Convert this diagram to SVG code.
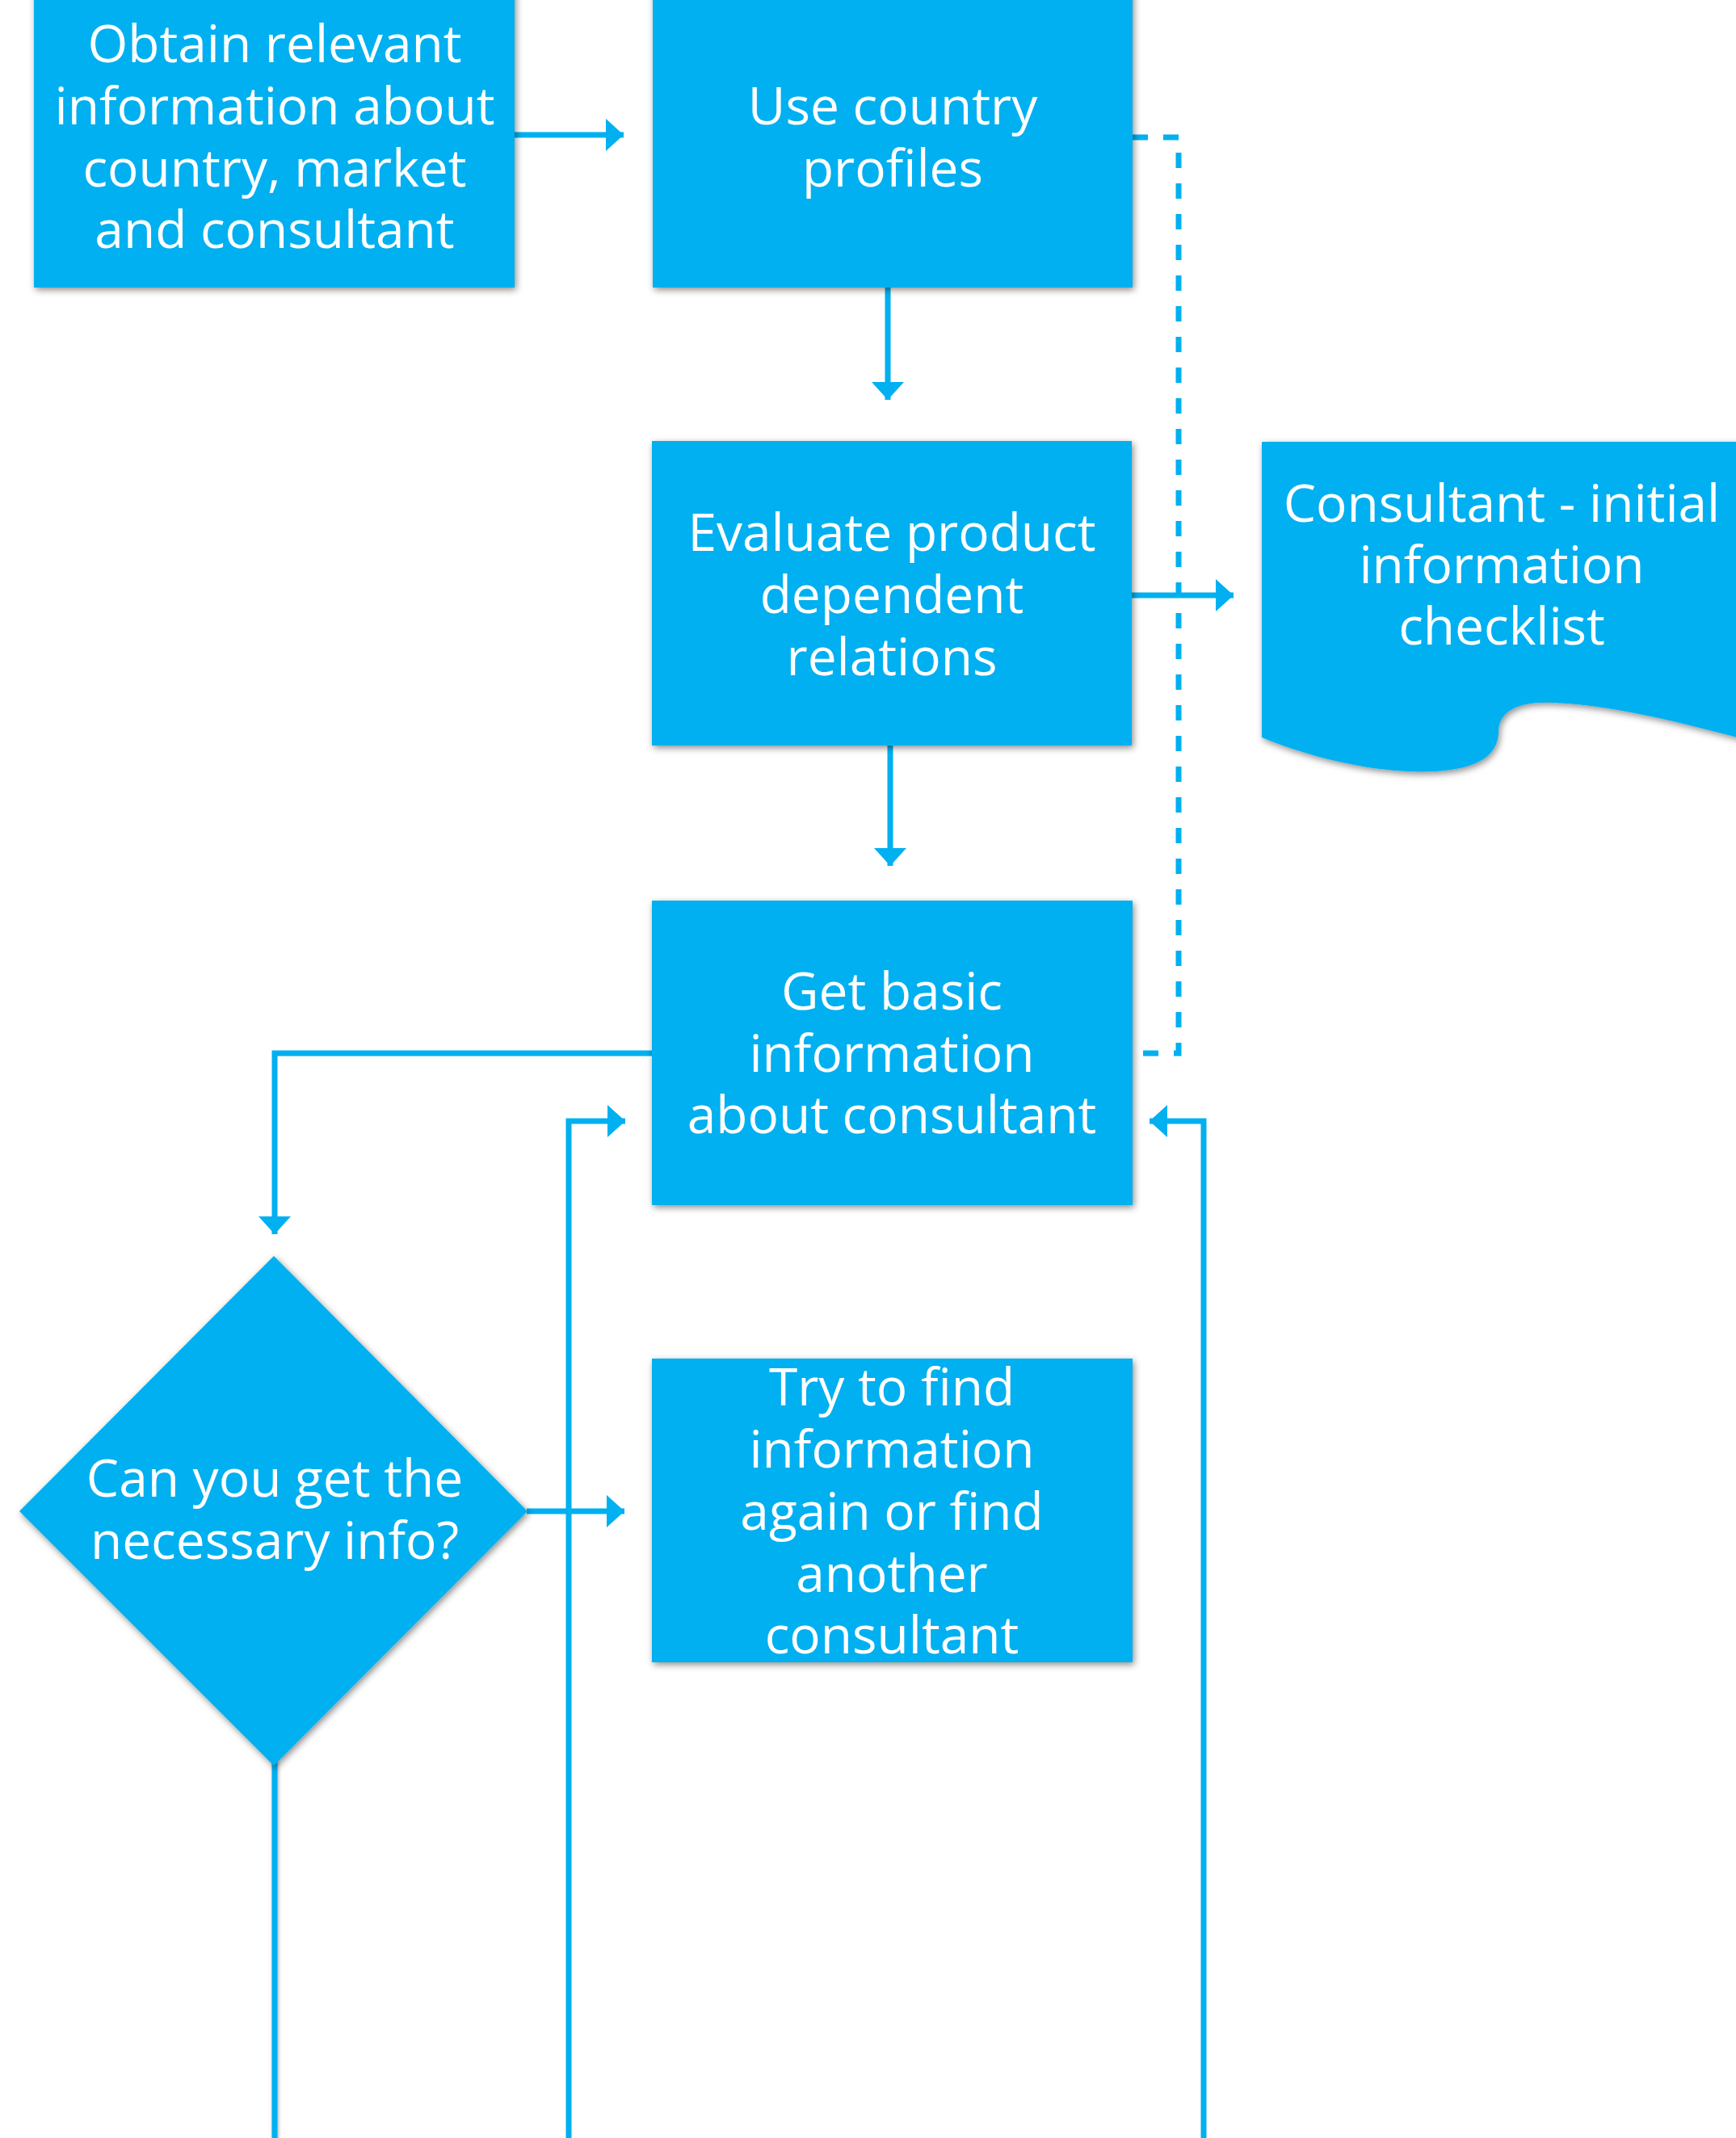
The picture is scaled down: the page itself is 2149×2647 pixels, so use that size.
<svg xmlns="http://www.w3.org/2000/svg" width="2149" height="2647" viewBox="0 0 2149 2647">
<defs>
<filter id="sh" x="-10%" y="-10%" width="120%" height="120%">
<feDropShadow dx="2" dy="3" stdDeviation="4" flood-color="#000" flood-opacity="0.45"/>
</filter>
<filter id="lsh" filterUnits="userSpaceOnUse" x="300" y="2150" width="80" height="520">
<feDropShadow dx="1" dy="2" stdDeviation="2" flood-color="#000" flood-opacity="0.35"/>
</filter>
<marker id="ah" markerUnits="userSpaceOnUse" markerWidth="24" markerHeight="42" viewBox="0 0 24 42" refX="22" refY="21" orient="auto">
<path d="M0,1 L22,21 L0,41 Z" fill="#00B0F0"/>
</marker>
</defs>
<style>
.n{fill:#00B0F0;filter:url(#sh)}
.t{font-family:"Open Sans","Noto Sans","DejaVu Sans",sans-serif;font-size:64px;fill:#fff;text-anchor:middle}
.c{fill:none;stroke:#00B0F0;stroke-width:7}
.d{fill:none;stroke:#00B0F0;stroke-width:7;stroke-dasharray:19 19}
</style>
<rect width="2149" height="2647" fill="#fff"/>
<g id="connectors">
<path class="d" d="M1402,170 H1459 V1304 H1402"/>
<path class="c" marker-end="url(#ah)" d="M637,167 H772"/>
<path class="c" marker-end="url(#ah)" d="M1099,356 V495"/>
<path class="c" marker-end="url(#ah)" d="M1102,923 V1072"/>
<path class="c" marker-end="url(#ah)" d="M1401,737 H1527"/>
<path class="c" marker-end="url(#ah)" d="M807,1304 H340 V1528"/>
<path class="c" marker-end="url(#ah)" d="M652,1871 H773"/>
<path class="c" marker-end="url(#ah)" d="M704,2647 V1388 H774"/>
<path class="c" marker-end="url(#ah)" d="M1490,2647 V1388 H1423"/>
<path class="c" filter="url(#lsh)" d="M340,2180 V2647"/>
</g>
<g id="n1">
<rect class="n" x="42" y="-20" width="595" height="376"/>
<text class="t"><tspan x="340" y="77">Obtain relevant</tspan><tspan x="340" y="154">information about</tspan><tspan x="340" y="231">country, market</tspan><tspan x="340" y="307">and consultant</tspan></text>
</g>
<g id="n2">
<rect class="n" x="808" y="-20" width="594" height="376"/>
<text class="t"><tspan x="1105" y="154">Use country</tspan><tspan x="1105" y="231">profiles</tspan></text>
</g>
<g id="n3">
<rect class="n" x="807" y="546" width="594" height="377"/>
<text class="t"><tspan x="1104" y="682">Evaluate product</tspan><tspan x="1104" y="759">dependent</tspan><tspan x="1104" y="836">relations</tspan></text>
</g>
<g id="n4">
<path class="n" d="M1562,547 H2170 V918 C2080,895 2000,873 1922,870 C1880,868 1856,880 1855,905 C1855,935 1830,952 1776,955 C1720,958 1640,945 1562,913 Z"/>
<text class="t"><tspan x="1859" y="646">Consultant - initial</tspan><tspan x="1859" y="722">information</tspan><tspan x="1859" y="798">checklist</tspan></text>
</g>
<g id="n5">
<rect class="n" x="807" y="1115" width="595" height="377"/>
<text class="t"><tspan x="1104" y="1250">Get basic</tspan><tspan x="1104" y="1327">information</tspan><tspan x="1104" y="1403">about consultant</tspan></text>
</g>
<g id="n6">
<path class="n" d="M339,1555 L653,1871 L339,2186 L24,1871 Z"/>
<text class="t"><tspan x="340" y="1853">Can you get the</tspan><tspan x="340" y="1930">necessary info?</tspan></text>
</g>
<g id="n7">
<rect class="n" x="807" y="1682" width="595" height="376"/>
<text class="t"><tspan x="1104" y="1740">Try to find</tspan><tspan x="1104" y="1817">information</tspan><tspan x="1104" y="1894">again or find</tspan><tspan x="1104" y="1971">another</tspan><tspan x="1104" y="2047">consultant</tspan></text>
</g>
</svg>
